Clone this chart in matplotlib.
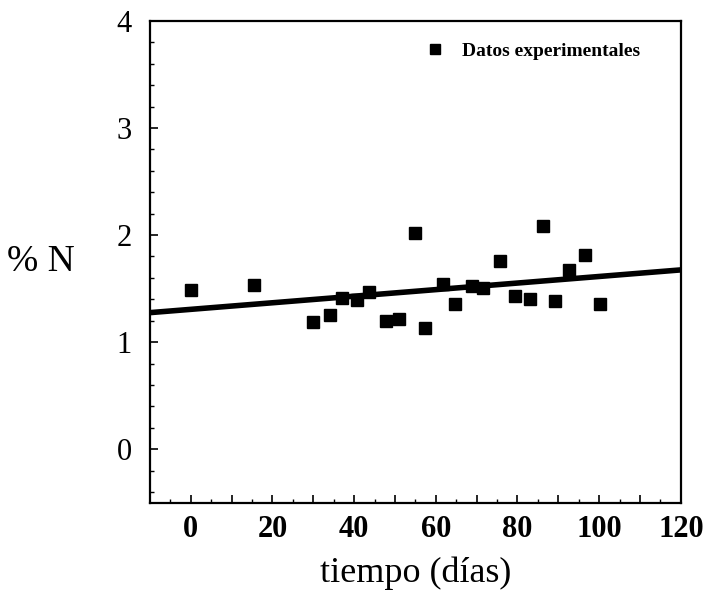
import matplotlib
matplotlib.use('Agg')
import matplotlib.pyplot as plt
from matplotlib.ticker import MultipleLocator, FuncFormatter
import numpy as np

# datos experimentales: tiempo (días) y % N
dias = [0.0, 15.5, 29.9, 34.1, 37.1, 40.7, 43.7, 47.7, 50.9, 54.8, 57.4, 61.7,
        64.8, 68.8, 71.6, 75.7, 79.4, 83.1, 86.3, 89.2, 92.5, 96.5, 100.3]
nitrogeno = [1.49, 1.53, 1.19, 1.25, 1.41, 1.39, 1.47, 1.20, 1.22, 2.02, 1.13, 1.54,
             1.36, 1.52, 1.51, 1.76, 1.43, 1.40, 2.08, 1.38, 1.67, 1.81, 1.36]

# recta ajustada
ordenada = 1.306
pendiente = 0.00307

xlim = (-10, 120)
ylim = (-0.5, 4)

plt.rcParams['font.family'] = ['Liberation Serif', 'DejaVu Serif']

fig = plt.figure(figsize=(7.07, 5.95), dpi=100)
ax = fig.add_axes([0.212, 0.155, 0.751, 0.81])

ax.plot(dias, nitrogeno, 's', color='black', markersize=8.5, label='Datos experimentales')
xr = np.array(xlim, dtype=float)
ax.plot(xr, ordenada + pendiente * xr, '-', color='black', linewidth=4, solid_capstyle='butt')

ax.set_xlim(*xlim)
ax.set_ylim(*ylim)

ax.xaxis.set_major_locator(MultipleLocator(10))
ax.xaxis.set_minor_locator(MultipleLocator(5))
ax.xaxis.set_major_formatter(FuncFormatter(lambda v, p: f"{int(round(v))}" if round(v) % 20 == 0 and v >= 0 else ""))
ax.yaxis.set_major_locator(MultipleLocator(1))
ax.yaxis.set_minor_locator(MultipleLocator(0.2))
ax.yaxis.set_major_formatter(FuncFormatter(lambda v, p: f"{int(round(v))}" if v >= 0 else ""))

ax.tick_params(axis='both', which='major', direction='in', length=6, width=1.2)
ax.tick_params(axis='both', which='minor', direction='in', length=3, width=1)
ax.tick_params(axis='x', labelsize=22, pad=9)
ax.tick_params(axis='y', labelsize=22, pad=13)
for lbl in ax.get_xticklabels():
    lbl.set_fontweight('bold')

for s in ax.spines.values():
    s.set_linewidth(1.6)

ax.set_xlabel('tiempo (días)', fontsize=26, labelpad=9)
ax.set_ylabel('% N', fontsize=27, rotation=0, ha='center', va='center')
ax.yaxis.set_label_coords(-0.205, 0.5)

ax.legend(loc='center right', bbox_to_anchor=(0.923, 0.938), frameon=False,
          prop={'weight': 'bold', 'size': 14}, handlelength=1.0, handletextpad=0.9,
          borderpad=0, borderaxespad=0, markerscale=0.85, numpoints=1)

plt.savefig('out.png', dpi=100)
